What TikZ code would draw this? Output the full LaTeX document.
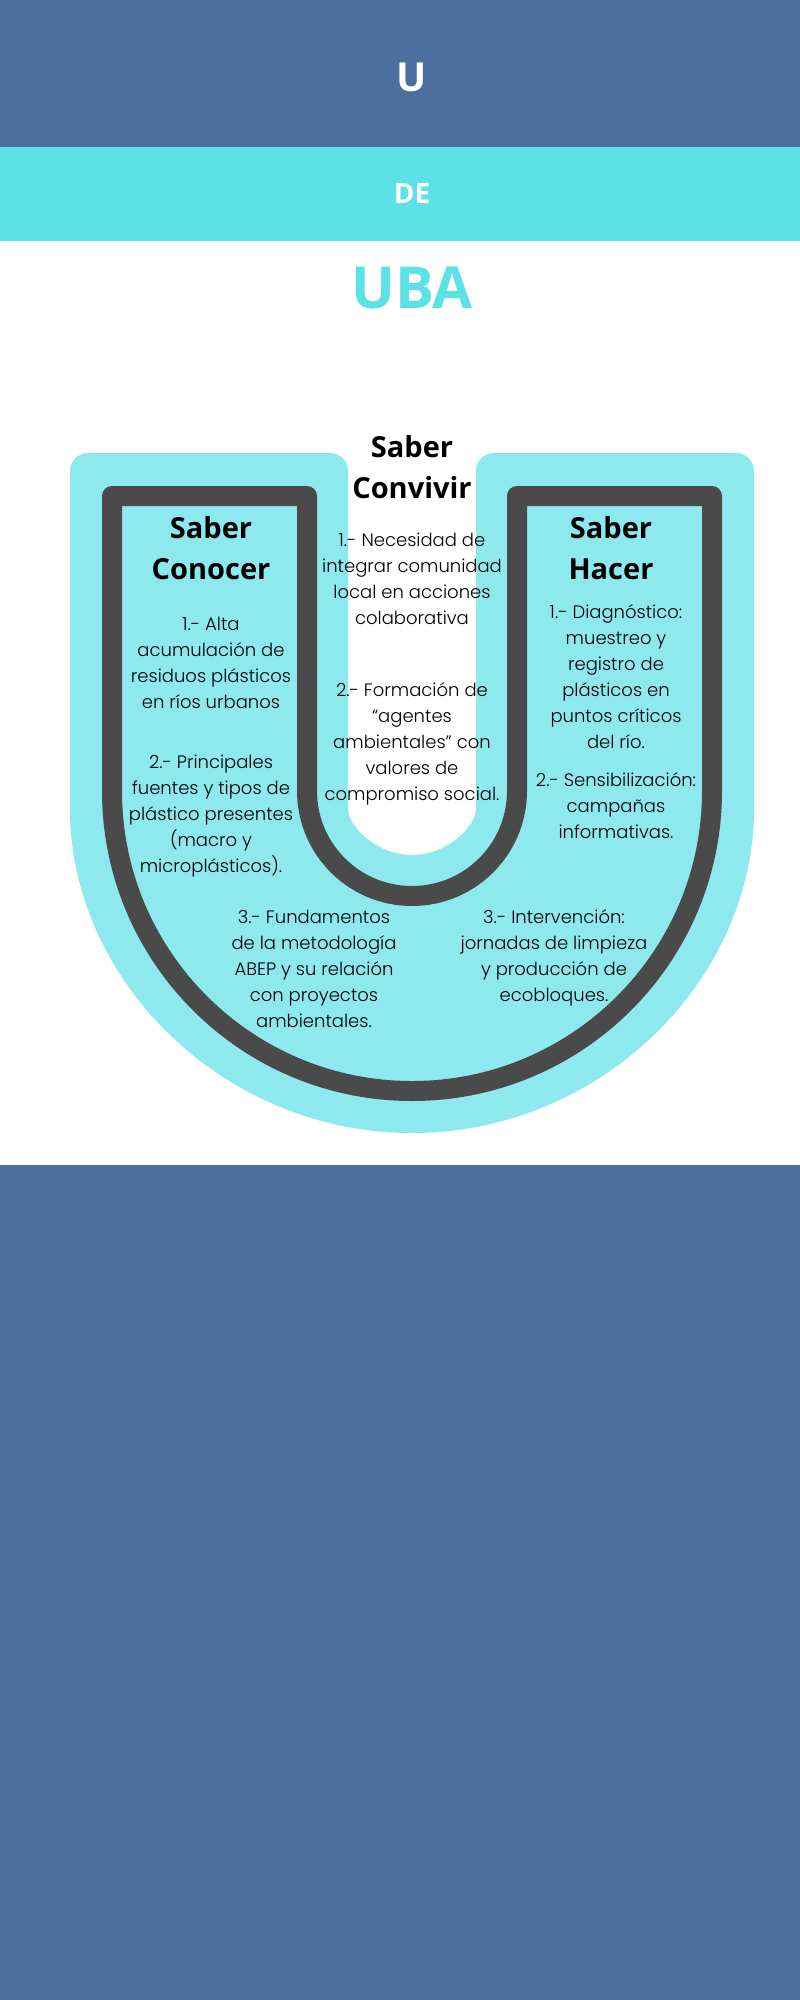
\documentclass[tikz,border=0pt]{standalone}
\usepackage{fontspec}
\setmainfont{Poppins}
\newfontfamily\bodyfont{Poppins Light}
\newfontfamily\headfont{Open Sans}
\newfontfamily\titlefont{Open Sans}
\definecolor{topblue}{HTML}{4C6F9F}
\definecolor{bandcyan}{HTML}{5CE1E6}
\definecolor{ucyan}{HTML}{8DE9EE}
\definecolor{udark}{HTML}{4A4A4A}
\newcommand\myst{\rule{0pt}{0.8em}}
\tikzset{
  bodytext/.style={font=\bodyfont\fontsize{18}{26}\selectfont, align=center, anchor=north, inner sep=0pt, text=black},
  headtext/.style={font=\headfont\bfseries\fontsize{29}{41}\selectfont, align=center, anchor=north, inner sep=0pt, text=black},
  titletext/.style={font=\titlefont\bfseries, inner sep=0pt, anchor=center}
}
\begin{document}
\begin{tikzpicture}[x=1pt,y=-1pt]
\useasboundingbox (0,0) rectangle (800,2000);
\fill[white] (0,0) rectangle (800,2000);
\fill[topblue] (0,0) rectangle (800,147);
\fill[bandcyan] (0,147) rectangle (800,241);
\fill[topblue] (0,1165) rectangle (800,2000);
% U shape
\fill[ucyan, rounded corners=18pt] (70,791) -- (70,453) -- (348,453) -- (348,791)
  arc[start angle=180,end angle=0,radius=64] -- (476,453) -- (754,453) -- (754,791)
  arc[start angle=0,end angle=180,radius=342] -- cycle;
\draw[udark, line width=20pt, line join=round, fill=ucyan] (112,791) -- (112,496) -- (307,496) -- (307,791)
  arc[start angle=180,end angle=0,radius=105] -- (517,496) -- (712,496) -- (712,791)
  arc[start angle=0,end angle=180,radius=300] -- cycle;
% titles
\node[titletext, text=white, font=\titlefont\bfseries\fontsize{40}{40}\selectfont] (tu) at (412,77) {U};
\node[titletext, text=white, font=\titlefont\bfseries\fontsize{28}{28}\selectfont] (tde) at (412,194) {DE};
\node[titletext, text=bandcyan, font=\titlefont\bfseries\fontsize{58}{58}\selectfont] (tuba) at (412,288) {UBA};
% headings
\node[headtext] (convivir) at (412,434) {\myst Saber\\Convivir};
\node[headtext] (conocer) at (211,515) {\myst Saber\\Conocer};
\node[headtext] (hacer) at (611,515) {\myst Saber\\Hacer};
% body
\node[bodytext] (lc1) at (211,616) {\myst 1.- Alta\\acumulación de\\residuos plásticos\\en ríos urbanos};
\node[bodytext] (lc2) at (211,754) {\myst 2.- Principales\\fuentes y tipos de\\plástico presentes\\(macro y\\microplásticos).};
\node[bodytext] (cc1) at (412,532) {\myst 1.- Necesidad de\\integrar comunidad\\local en acciones\\colaborativa};
\node[bodytext] (cc2) at (412,682) {\myst 2.- Formación de\\“agentes\\ambientales” con\\valores de\\compromiso social.};
\node[bodytext] (rc1) at (616,604) {\myst 1.- Diagnóstico:\\muestreo y\\registro de\\plásticos en\\puntos críticos\\del río.};
\node[bodytext] (rc2) at (616,772) {\myst 2.- Sensibilización:\\campañas\\informativas.};
\node[bodytext] (bl) at (314,909) {\myst 3.- Fundamentos\\de la metodología\\ABEP y su relación\\con proyectos\\ambientales.};
\node[bodytext] (br) at (554,909) {\myst 3.- Intervención:\\jornadas de limpieza\\y producción de\\ecobloques.};
\end{tikzpicture}
\end{document}
